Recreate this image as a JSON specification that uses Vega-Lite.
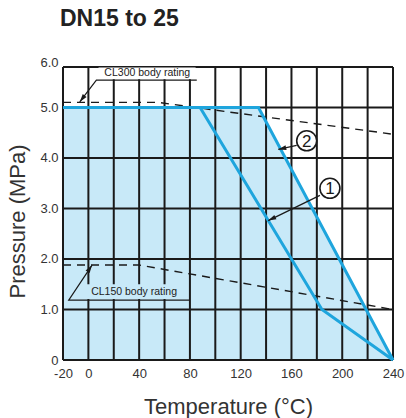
{
  "$schema": "https://vega.github.io/schema/vega-lite/v6.json",
  "autosize": "none",
  "width": 330,
  "height": 298,
  "padding": {"left": 63, "top": 62, "right": 13, "bottom": 58},
  "background": "white",
  "title": {
    "text": "DN15 to 25",
    "anchor": "start",
    "frame": "group",
    "orient": "top",
    "baseline": "alphabetic",
    "offset": 7,
    "dx": -3,
    "font": "Liberation Sans",
    "fontSize": 23,
    "fontWeight": "bold",
    "color": "#222"
  },
  "config": {
    "view": {"stroke": null},
    "axis": {
      "domain": false,
      "ticks": false,
      "grid": false,
      "labelFlush": false,
      "labelFont": "Liberation Sans",
      "labelFontSize": 13,
      "labelColor": "#333",
      "titleFont": "Liberation Sans",
      "titleFontSize": 22,
      "titleFontWeight": "normal",
      "titleColor": "#333"
    }
  },
  "datasets": {
    "fill": [
      {"x": -20, "y": 5.0},
      {"x": 134, "y": 5.0},
      {"x": 240, "y": 0}
    ],
    "gridX": [
      {"x": -20}, {"x": 0}, {"x": 20}, {"x": 40}, {"x": 60}, {"x": 80}, {"x": 100},
      {"x": 120}, {"x": 140}, {"x": 160}, {"x": 180}, {"x": 200}, {"x": 220}, {"x": 240}
    ],
    "gridY": [
      {"y": 0}, {"y": 1}, {"y": 2}, {"y": 3}, {"y": 4}, {"y": 5}, {"y": 5.8}
    ],
    "boxes": [
      {"label": "CL300", "x": 8, "x2": 84.5, "y": 5.56, "y2": 5.79, "bg": "white"},
      {"label": "CL150", "x": -2, "x2": 75, "y": 1.21, "y2": 1.5, "bg": "blue"}
    ],
    "ratings": [
      {"series": "CL300", "x": -20, "y": 5.1},
      {"series": "CL300", "x": 55, "y": 5.1},
      {"series": "CL300", "x": 240, "y": 4.47},
      {"series": "CL150", "x": -20, "y": 1.88},
      {"series": "CL150", "x": 40, "y": 1.88},
      {"series": "CL150", "x": 240, "y": 1.0}
    ],
    "curves": [
      {"curve": "1", "o": 1, "x": -20, "y": 5.0},
      {"curve": "1", "o": 2, "x": 88, "y": 5.0},
      {"curve": "1", "o": 3, "x": 184, "y": 1.0},
      {"curve": "1", "o": 4, "x": 240, "y": 0},
      {"curve": "2", "o": 1, "x": -20, "y": 5.0},
      {"curve": "2", "o": 2, "x": 134, "y": 5.0},
      {"curve": "2", "o": 3, "x": 240, "y": 0}
    ],
    "leaders": [
      {"id": "CL300", "o": 1, "x": 85.4, "y": 5.54},
      {"id": "CL300", "o": 2, "x": 6.3, "y": 5.54},
      {"id": "CL300", "o": 3, "x": -6.8, "y": 5.11},
      {"id": "CL150", "o": 1, "x": 79.9, "y": 1.187},
      {"id": "CL150", "o": 2, "x": -15.5, "y": 1.187},
      {"id": "CL150", "o": 3, "x": 2.9, "y": 1.88},
      {"id": "c2", "o": 1, "x": 164.1, "y": 4.25},
      {"id": "c2", "o": 2, "x": 149.6, "y": 4.17},
      {"id": "c1", "o": 1, "x": 182.4, "y": 3.26},
      {"id": "c1", "o": 2, "x": 141.7, "y": 2.76}
    ],
    "tips": [
      {"id": "CL300", "x": -6.8, "y": 5.11},
      {"id": "CL150", "x": 2.9, "y": 1.88},
      {"id": "c2", "x": 149.6, "y": 4.17},
      {"id": "c1", "x": 141.7, "y": 2.76}
    ],
    "circles": [
      {"text": "2", "x": 172, "y": 4.34},
      {"text": "1", "x": 190.3, "y": 3.4}
    ],
    "notes": [
      {"text": "CL300 body rating", "x": 46.4, "y": 5.685},
      {"text": "CL150 body rating", "x": 36, "y": 1.345}
    ]
  },
  "layer": [
    {
      "data": {"name": "fill"},
      "mark": {"type": "area", "color": "#c8e9f8", "interpolate": "linear"},
      "encoding": {
        "x": {
          "field": "x", "type": "quantitative",
          "scale": {"domain": [-20, 240], "nice": false, "zero": false},
          "axis": {
            "title": "Temperature (°C)",
            "values": [-20, 0, 40, 80, 120, 160, 200, 240],
            "labelExpr": "datum.value == -20 ? '-20' : datum.label",
            "labelPadding": 7,
            "labelBound": false,
            "labelOverlap": false,
            "titleY": 53,
            "titleBaseline": "alphabetic"
          }
        },
        "y": {
          "field": "y", "type": "quantitative",
          "scale": {"domain": [0, 5.9], "nice": false},
          "axis": {
            "title": "Pressure (MPa)",
            "values": [0, 1, 2, 3, 4, 5, 5.9],
            "labelExpr": "datum.value == 0 ? '0' : (datum.value > 5.5 ? '6.0' : format(datum.value, '.1f'))",
            "labelPadding": 5,
            "labelBound": false,
            "labelOverlap": false,
            "titleX": -39,
            "titleY": 159,
            "titleBaseline": "alphabetic",
            "titleAlign": "center"
          }
        }
      }
    },
    {
      "data": {"name": "gridX"},
      "mark": {"type": "rule", "color": "#1a1a1a", "strokeWidth": 2},
      "encoding": {
        "x": {"field": "x", "type": "quantitative"},
        "y": {"datum": 0, "type": "quantitative"},
        "y2": {"datum": 5.8}
      }
    },
    {
      "data": {"name": "gridY"},
      "mark": {"type": "rule", "color": "#1a1a1a", "strokeWidth": 2},
      "encoding": {"y": {"field": "y", "type": "quantitative"}}
    },
    {
      "data": {"name": "boxes"},
      "mark": {"type": "rect"},
      "encoding": {
        "x": {"field": "x", "type": "quantitative"},
        "x2": {"field": "x2"},
        "y": {"field": "y", "type": "quantitative"},
        "y2": {"field": "y2"},
        "color": {
          "field": "bg", "type": "nominal",
          "scale": {"domain": ["white", "blue"], "range": ["#ffffff", "#c8e9f8"]},
          "legend": null
        }
      }
    },
    {
      "data": {"name": "ratings"},
      "mark": {"type": "line", "color": "#1a1a1a", "strokeWidth": 1.4, "strokeDash": [8, 6]},
      "encoding": {
        "x": {"field": "x", "type": "quantitative"},
        "y": {"field": "y", "type": "quantitative"},
        "detail": {"field": "series"}
      }
    },
    {
      "data": {"name": "curves"},
      "mark": {"type": "line", "color": "#1ea5dd", "strokeWidth": 3},
      "encoding": {
        "x": {"field": "x", "type": "quantitative"},
        "y": {"field": "y", "type": "quantitative"},
        "detail": {"field": "curve"},
        "order": {"field": "o"}
      }
    },
    {
      "data": {"name": "leaders"},
      "mark": {"type": "line", "color": "#1a1a1a", "strokeWidth": 1.2},
      "encoding": {
        "x": {"field": "x", "type": "quantitative"},
        "y": {"field": "y", "type": "quantitative"},
        "detail": {"field": "id"},
        "order": {"field": "o"}
      }
    },
    {
      "data": {"name": "tips"},
      "transform": [{"filter": "datum.id == 'CL300'"}],
      "mark": {"type": "point", "shape": "M0,0L-0.6,2L0.6,2Z", "size": 64, "filled": true, "color": "#1a1a1a", "opacity": 1, "angle": 217.6},
      "encoding": {"x": {"field": "x", "type": "quantitative"}, "y": {"field": "y", "type": "quantitative"}}
    },
    {
      "data": {"name": "tips"},
      "transform": [{"filter": "datum.id == 'CL150'"}],
      "mark": {"type": "point", "shape": "M0,0L-0.6,2L0.6,2Z", "size": 64, "filled": true, "color": "#1a1a1a", "opacity": 1, "angle": 33.6},
      "encoding": {"x": {"field": "x", "type": "quantitative"}, "y": {"field": "y", "type": "quantitative"}}
    },
    {
      "data": {"name": "tips"},
      "transform": [{"filter": "datum.id == 'c2'"}],
      "mark": {"type": "point", "shape": "M0,0L-0.6,2L0.6,2Z", "size": 64, "filled": true, "color": "#1a1a1a", "opacity": 1, "angle": 256.8},
      "encoding": {"x": {"field": "x", "type": "quantitative"}, "y": {"field": "y", "type": "quantitative"}}
    },
    {
      "data": {"name": "tips"},
      "transform": [{"filter": "datum.id == 'c1'"}],
      "mark": {"type": "point", "shape": "M0,0L-0.6,2L0.6,2Z", "size": 64, "filled": true, "color": "#1a1a1a", "opacity": 1, "angle": 243.6},
      "encoding": {"x": {"field": "x", "type": "quantitative"}, "y": {"field": "y", "type": "quantitative"}}
    },
    {
      "data": {"name": "circles"},
      "mark": {"type": "point", "shape": "circle", "size": 400, "filled": true, "fill": "white", "stroke": "#1a1a1a", "strokeWidth": 1.6, "opacity": 1},
      "encoding": {"x": {"field": "x", "type": "quantitative"}, "y": {"field": "y", "type": "quantitative"}}
    },
    {
      "data": {"name": "circles"},
      "mark": {"type": "text", "font": "Liberation Sans", "fontSize": 17, "color": "#1a1a1a", "baseline": "middle", "align": "center", "dy": 1},
      "encoding": {
        "x": {"field": "x", "type": "quantitative"},
        "y": {"field": "y", "type": "quantitative"},
        "text": {"field": "text"}
      }
    },
    {
      "data": {"name": "notes"},
      "mark": {"type": "text", "font": "Liberation Sans", "fontSize": 10.5, "color": "#222", "baseline": "middle", "align": "center"},
      "encoding": {
        "x": {"field": "x", "type": "quantitative"},
        "y": {"field": "y", "type": "quantitative"},
        "text": {"field": "text"}
      }
    }
  ]
}
